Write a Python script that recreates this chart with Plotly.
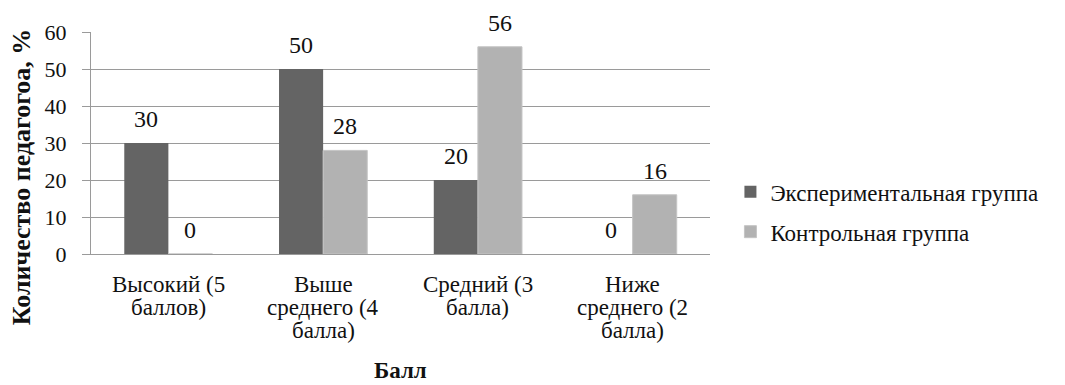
import plotly.graph_objects as go

categories = [
    "Высокий (5<br>баллов)",
    "Выше<br>среднего (4<br>балла)",
    "Средний (3<br>балла)",
    "Ниже<br>среднего (2<br>балла)",
]
experimental = [30, 50, 20, 0]
control = [0, 28, 56, 16]
y_ticks = [0, 10, 20, 30, 40, 50, 60]

FONT = "Liberation Serif"
INK = "#111111"
GRID = "#9a9a9a"

fig = go.Figure()
fig.add_trace(go.Bar(
    x=categories, y=experimental, name="Экспериментальная группа",
    legendgroup="exp", marker=dict(color="#646464", line=dict(width=0)),
))
fig.add_trace(go.Bar(
    x=categories, y=control, name="Контрольная группа",
    legendgroup="ctl", marker=dict(color="#b2b2b2", line=dict(color="#c4c4c4", width=1)),
))

# value labels above each bar (half a bar width left/right of the category centre)
for series, shift in ((experimental, -22), (control, 22)):
    for cat, val in zip(categories, series):
        fig.add_annotation(
            x=cat, y=val, xref="x", yref="y", xshift=shift, yshift=24,
            text=str(val), showarrow=False, xanchor="center", yanchor="middle",
            font=dict(family=FONT, size=24, color=INK),
        )

# category labels, one line at a time for tight line spacing
LINE_STEP = 23
for cat in categories:
    for i, line in enumerate(cat.split("<br>")):
        fig.add_annotation(
            x=cat, y=0, xref="x", yref="y", yshift=-30 - i * LINE_STEP,
            text=line, showarrow=False, xanchor="center", yanchor="middle",
            font=dict(family=FONT, size=23, color=INK),
        )

fig.update_layout(
    width=1065, height=385,
    margin=dict(l=91, r=355, t=32, b=131),
    paper_bgcolor="white", plot_bgcolor="white",
    font=dict(family=FONT, size=22, color=INK),
    barmode="group", bargap=0.43, bargroupgap=0,
    showlegend=True,
    legend=dict(
        x=1.033, y=0.19, xanchor="left", yanchor="middle",
        font=dict(family=FONT, size=23, color=INK),
        itemwidth=30, traceorder="grouped", tracegroupgap=7,
    ),
)
fig.update_xaxes(
    showline=True, linecolor=GRID, linewidth=1,
    ticks="", showticklabels=False, showgrid=False,
)
fig.update_yaxes(
    range=[0, 60], tickvals=y_ticks,
    showline=True, linecolor=GRID, linewidth=1,
    ticks="outside", ticklen=8, tickcolor=GRID,
    showgrid=True, gridcolor=GRID, gridwidth=1,
    tickfont=dict(family=FONT, size=22, color=INK),
    ticklabelstandoff=11, zeroline=False,
)
fig.add_annotation(
    text="<b>Количество педагогоа, %</b>", textangle=-90,
    xref="paper", yref="paper", x=-0.111, y=0.347, xanchor="center", yanchor="middle",
    showarrow=False, font=dict(family=FONT, size=26, color=INK),
)
fig.add_annotation(
    text="<b>Балл</b>",
    xref="paper", yref="paper", x=0.5, y=-0.525, xanchor="center", yanchor="middle",
    showarrow=False, font=dict(family=FONT, size=23, color=INK),
)

fig.write_html("out.html")
